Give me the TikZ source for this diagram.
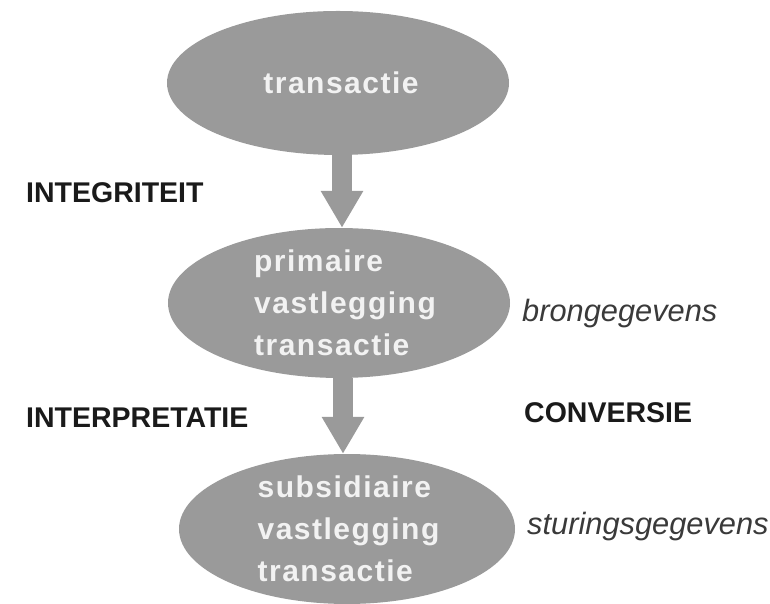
\documentclass[tikz,border=0pt]{standalone}
\usepackage{fontspec}
\setmainfont{Liberation Sans}
\newfontfamily\widefont[LetterSpace=5]{Liberation Sans}
\usetikzlibrary{shapes.geometric,arrows.meta}
\definecolor{ellgray}{HTML}{9A9A9A}
\definecolor{elltext}{HTML}{F2F2F2}
\definecolor{labdark}{HTML}{1A1A1A}
\definecolor{itdark}{HTML}{3A3A3A}
\tikzset{
  ell/.style={ellipse, fill=ellgray, inner sep=0pt, minimum width=342pt, minimum height=144pt,
    text=elltext, font=\widefont\bfseries\fontsize{30}{42}\selectfont, align=left},
  caplabel/.style={anchor=west, inner sep=0pt, text=labdark, font=\bfseries\fontsize{28.5}{30}\selectfont},
  itlabel/.style={anchor=west, inner sep=0pt, text=itdark, font=\itshape\fontsize{30.8}{34}\selectfont},
  flow/.style={draw=ellgray, line width=20pt, -{Triangle[width=40pt,length=37pt]}, fill=ellgray}
}
\begin{document}
\begin{tikzpicture}[x=1pt,y=1pt]
\useasboundingbox (0,0) rectangle (770,604);
\node[ell] (e1) at (338,521) {\hspace*{6pt}transactie};
\node[ell] (e2) at (339,301) {\hspace*{12pt}primaire\\\hspace*{12pt}vastlegging\\\hspace*{12pt}transactie};
\node[ell, minimum width=336pt, minimum height=142pt] (e3) at (347,75) {\hspace*{3pt}subsidiaire\\\hspace*{3pt}vastlegging\\\hspace*{3pt}transactie};
\draw[flow, transform canvas={xshift=4pt}] (e1.south) -- (e1.south |- e2.north);
\draw[flow, transform canvas={xshift=4pt}] (e2.south) -- (e2.south |- e3.north);
\node[caplabel] (l1) at (26,411) {INTEGRITEIT};
\node[caplabel] (l2) at (26,186) {INTERPRETATIE};
\node[caplabel] (l3) at (524,191) {CONVERSIE};
\node[itlabel] (l4) at (522,290) {brongegevens};
\node[itlabel] (l5) at (527,77) {sturingsgegevens};
\end{tikzpicture}
\end{document}
